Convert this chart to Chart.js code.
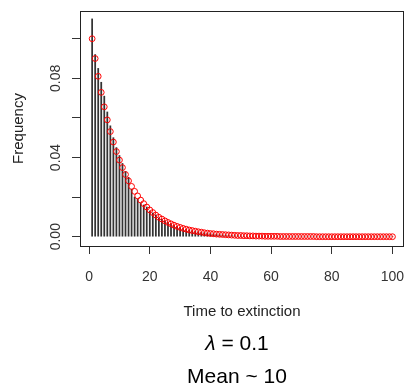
<!DOCTYPE html>
<html>
<head>
<meta charset="utf-8">
<script src="https://cdn.jsdelivr.net/npm/chart.js@4.4.0/dist/chart.umd.min.js"></script>
<style>
  html, body { margin: 0; padding: 0; background: #fff; }
  #wrap { width: 405px; height: 392px; }
</style>
</head>
<body>
<div id="wrap"><canvas id="chart" width="405" height="392"></canvas></div>
<script>
// ---- data ----
var times = [1, 2, 3, 4, 5, 6, 7, 8, 9, 10, 11, 12, 13, 14, 15, 16, 17, 18, 19, 20,
    21, 22, 23, 24, 25, 26, 27, 28, 29, 30, 31, 32, 33, 34, 35, 36, 37, 38, 39, 40,
    41, 42, 43, 44, 45, 46, 47, 48, 49, 50, 51, 52, 53, 54, 55, 56, 57, 58, 59, 60,
    61, 62, 63, 64, 65, 66, 67, 68, 69, 70, 71, 72, 73, 74, 75, 76, 77, 78, 79, 80,
    81, 82, 83, 84, 85, 86, 87, 88, 89, 90, 91, 92, 93, 94, 95, 96, 97, 98, 99, 100];

// black spikes (simulated frequencies)
var observed = [0.110, 0.092, 0.085, 0.078, 0.071, 0.063, 0.056, 0.050, 0.045, 0.041,
    0.037, 0.033, 0.030, 0.024, 0.020, 0.019, 0.017, 0.016, 0.015, 0.013,
    0.012, 0.011, 0.0095, 0.0088, 0.0080, 0.0072, 0.0065, 0.0058, 0.0052, 0.0047,
    0.0043, 0.0038, 0.0034, 0.0031, 0.0028, 0.0025, 0.0022, 0.0020, 0.0018, 0.0016,
    0.0014, 0.0013, 0.0011, 0.0010, 0.0009, 0.0008, 0.0007, 0.0006, 0.0006, 0.0005,
    0.0004, 0.0004, 0.0003, 0.0003, 0.0003, 0.0002, 0.0002, 0.0002, 0.0001, 0.0001,
    0, 0, 0, 0, 0, 0, 0, 0, 0, 0,
    0, 0, 0, 0, 0, 0, 0, 0, 0, 0,
    0, 0, 0.0002, 0, 0, 0, 0, 0, 0, 0,
    0, 0, 0, 0, 0, 0, 0, 0, 0, 0];

// red circles (expected frequencies)
var expected = [0.1000, 0.0900, 0.0810, 0.0729, 0.0656, 0.0590, 0.0531, 0.0478, 0.0430, 0.0387,
    0.0349, 0.0314, 0.0282, 0.0254, 0.0229, 0.0206, 0.0185, 0.0167, 0.0150, 0.0135,
    0.0122, 0.0109, 0.0098, 0.0089, 0.0080, 0.0072, 0.0065, 0.0058, 0.0052, 0.0047,
    0.0042, 0.0038, 0.0034, 0.0031, 0.0028, 0.0025, 0.0023, 0.0020, 0.0018, 0.0016,
    0.0015, 0.0013, 0.0012, 0.0011, 0.0010, 0.0009, 0.0008, 0.0007, 0.0006, 0.0006,
    0.0005, 0.0005, 0.0004, 0.0004, 0.0003, 0.0003, 0.0003, 0.0002, 0.0002, 0.0002,
    0.0002, 0.0002, 0.0001, 0.0001, 0.0001, 0.0001, 0.0001, 0.0001, 0.0001, 0.0001,
    0.0001, 0.0001, 0.0001, 0.0001, 0, 0, 0, 0, 0, 0,
    0, 0, 0, 0, 0, 0, 0, 0, 0, 0,
    0, 0, 0, 0, 0, 0, 0, 0, 0, 0];

var xTicks = [0, 20, 40, 60, 80, 100];
var yTicks = [0, 0.02, 0.04, 0.06, 0.08, 0.10];
var yTickLabels = ['0.00', '', '0.04', '', '0.08', ''];
var xTitle = 'Time to extinction';
var yTitle = 'Frequency';
var rateSymbol = 'λ';
var rateText = ' = 0.1';
var meanText = 'Mean ~ 10';

var FONT = '"Liberation Sans", Arial, sans-serif';

// box round the plot + the two caption lines under the axis title
var framePlugin = {
    id: 'frame',
    afterDraw: function (chart) {
        var ctx = chart.ctx, a = chart.chartArea;
        ctx.save();
        ctx.strokeStyle = '#222';
        ctx.lineWidth = 1;
        ctx.strokeRect(Math.round(a.left) + 0.5, Math.round(a.top) + 0.5,
            Math.round(a.right - a.left) - 1, Math.round(a.bottom - a.top));

        var cx = (a.left + a.right) / 2 - 5;
        ctx.fillStyle = '#000';
        ctx.textBaseline = 'middle';
        ctx.font = 'italic 21px ' + FONT;
        var w1 = ctx.measureText(rateSymbol).width;
        ctx.font = '21px ' + FONT;
        var w2 = ctx.measureText(rateText).width;
        var x0 = cx - (w1 + w2) / 2;
        ctx.textAlign = 'left';
        ctx.font = 'italic 21px ' + FONT;
        ctx.fillText(rateSymbol, x0, 344);
        ctx.font = '21px ' + FONT;
        ctx.fillText(rateText, x0 + w1, 344);
        ctx.textAlign = 'center';
        ctx.fillText(meanText, cx, 377);
        ctx.restore();
    }
};

new Chart(document.getElementById('chart'), {
    data: {
        datasets: [{
            type: 'bar',
            data: times.map(function (t, i) { return { x: t, y: observed[i] }; }),
            backgroundColor: '#333',
            barThickness: 1.1,
            grouped: false,
            order: 2
        }, {
            type: 'scatter',
            data: times.map(function (t, i) { return { x: t, y: expected[i] }; }),
            pointStyle: 'circle',
            pointRadius: 2.9,
            pointBorderWidth: 1,
            pointBackgroundColor: 'rgba(0,0,0,0)',
            pointBorderColor: '#ff0000',
            order: 1
        }]
    },
    options: {
        responsive: false,
        animation: false,
        layout: { autoPadding: false, padding: { top: 11, right: 1, left: 0, bottom: 0 } },
        plugins: { legend: { display: false }, tooltip: { enabled: false } },
        scales: {
            x: {
                type: 'linear',
                offset: false,
                min: -3.0,
                max: 103.8,
                afterBuildTicks: function (s) { s.ticks = xTicks.map(function (v) { return { value: v }; }); },
                afterFit: function (s) { s.height = 146; s.paddingLeft = 0; s.paddingRight = 0; },
                border: { display: false },
                grid: { offset: false, drawOnChartArea: false, drawTicks: true, tickLength: 8, tickColor: '#333', tickWidth: 1 },
                ticks: {
                    color: '#333', padding: 15, maxRotation: 0,
                    font: { family: FONT, size: 14 },
                    callback: function (v) { return String(v); }
                },
                title: {
                    display: true, text: xTitle, color: '#222',
                    font: { family: FONT, size: 15 },
                    padding: { top: 0, bottom: 71 }
                }
            },
            y: {
                type: 'linear',
                min: -0.0047,
                max: 0.114,
                afterBuildTicks: function (s) { s.ticks = yTicks.map(function (v) { return { value: v }; }); },
                afterFit: function (s) { s.width = 80; s.paddingTop = 0; s.paddingBottom = 0; },
                border: { display: false },
                grid: { drawOnChartArea: false, drawTicks: true, tickLength: 8, tickColor: '#333', tickWidth: 1 },
                ticks: {
                    color: '#333', padding: 2, minRotation: 90, maxRotation: 90, crossAlign: 'center',
                    font: { family: FONT, size: 14 },
                    callback: function (v, i) { return yTickLabels[i]; }
                },
                title: {
                    display: true, text: yTitle, color: '#222',
                    font: { family: FONT, size: 15 },
                    padding: { top: 10, bottom: 0 }
                }
            }
        }
    },
    plugins: [framePlugin]
});
</script>
</body>
</html>
